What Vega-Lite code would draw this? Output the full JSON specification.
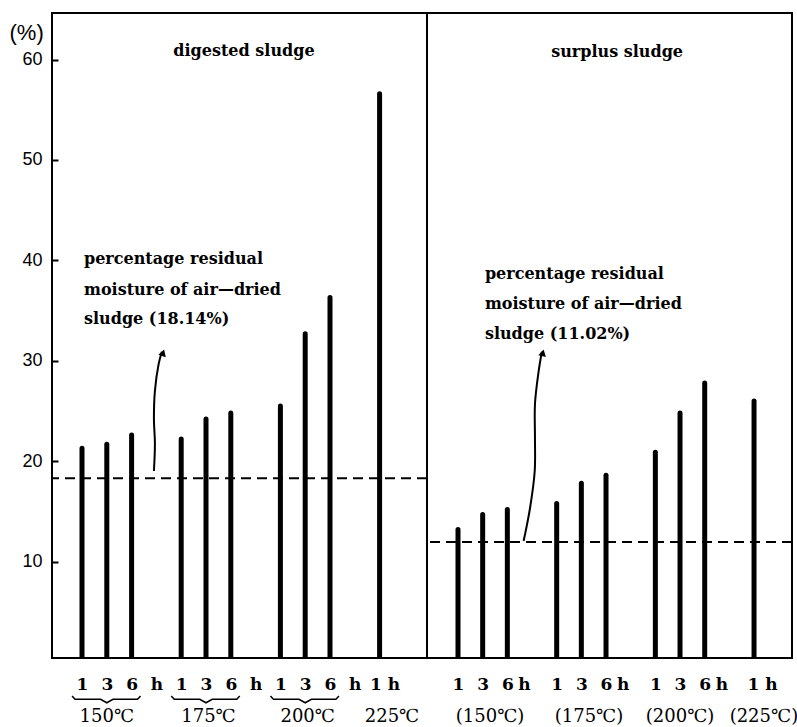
{
  "$schema": "https://vega.github.io/schema/vega-lite/v6.json",
  "background": "white",
  "padding": {"left": 8, "top": 12, "right": 0, "bottom": 0},
  "spacing": 0,
  "bounds": "flush",
  "config": {"view": {"stroke": "black", "strokeWidth": 2}, "axis": {"grid": false}},
  "resolve": {"scale": {"x": "independent", "y": "independent"}},
  "hconcat": [
    {
      "width": 375,
      "height": 645,
      "resolve": {"scale": {"x": "independent"}},
      "layer": [
        {
          "data": {"values": [
            {"key": "150-1", "v": 21.3}, {"key": "150-3", "v": 21.7}, {"key": "150-6", "v": 22.6},
            {"key": "175-1", "v": 22.2}, {"key": "175-3", "v": 24.2}, {"key": "175-6", "v": 24.8},
            {"key": "200-1", "v": 25.5}, {"key": "200-3", "v": 32.7}, {"key": "200-6", "v": 36.3},
            {"key": "225-1", "v": 56.6}
          ]},
          "mark": {"type": "rule", "strokeWidth": 5, "strokeCap": "round", "clip": true, "color": "black"},
          "encoding": {
            "x": {
              "field": "key", "type": "ordinal",
              "scale": {"type": "point", "domain": ["150-1", "150-3", "150-6", "150-h", "175-1", "175-3", "175-6", "175-h", "200-1", "200-3", "200-6", "200-h", "225-1"], "range": [30, 327.6], "padding": 0},
              "axis": {
                "title": null, "orient": "bottom", "domain": false, "ticks": false, "labelPadding": 26, "labelBaseline": "middle", "labelAngle": 0,
                "labelFont": "DejaVu Serif", "labelFontWeight": "bold", "labelFontSize": 17, "labelColor": "black", "labelOverlap": false,
                "labelExpr": "datum.value == '225-1' ? '1 h' : slice(datum.value, 4)",
                "labelOffset": {"condition": {"test": "datum.value == '225-1'", "value": 5}, "value": 0}
              }
            },
            "y": {
              "field": "v", "type": "quantitative",
              "scale": {"domain": [0.4, 64.64], "nice": false, "zero": false},
              "axis": {
                "title": "(%)", "titleAngle": 0, "titleX": -43, "titleY": 19, "titleAlign": "left", "titleBaseline": "middle",
                "titleFont": "Liberation Sans", "titleFontSize": 22, "titleFontWeight": "normal", "titleColor": "black",
                "values": [10, 20, 30, 40, 50, 60], "tickSize": -6, "tickWidth": 2, "tickColor": "black", "labelPadding": 16,
                "labelFont": "Liberation Sans", "labelFontSize": 18, "labelColor": "black", "domain": false
              }
            },
            "y2": {"datum": 0.4}
          }
        },
        {
          "layer": [
            {
              "data": {"values": [{"lvl": 18.3}]},
              "mark": {"type": "rule", "strokeDash": [10, 6], "strokeWidth": 2, "color": "black"},
              "encoding": {"y": {"field": "lvl", "type": "quantitative"}}
            },
            {
              "data": {"values": [
                {"x": 2.90, "y": 19.02, "k": 0}, {"x": 2.94, "y": 21.71, "k": 1}, {"x": 2.90, "y": 24.30, "k": 2},
                {"x": 2.94, "y": 26.99, "k": 3}, {"x": 3.09, "y": 29.68, "k": 4}, {"x": 3.22, "y": 30.9, "k": 5}
              ]},
              "mark": {"type": "line", "interpolate": "catmull-rom", "strokeWidth": 2, "color": "black"},
              "encoding": {
                "x": {"field": "x", "type": "quantitative", "scale": {"domain": [-1.2097, 13.911], "nice": false, "zero": false}, "axis": null},
                "y": {"field": "y", "type": "quantitative"},
                "order": {"field": "k"}
              }
            },
            {
              "data": {"values": [{"x": 3.27, "y": 30.8}]},
              "mark": {"type": "point", "shape": "triangle-up", "size": 60, "angle": 18, "filled": true, "color": "black", "opacity": 1},
              "encoding": {
                "x": {"field": "x", "type": "quantitative", "scale": {"domain": [-1.2097, 13.911], "nice": false, "zero": false}, "axis": null},
                "y": {"field": "y", "type": "quantitative"}
              }
            },
            {
              "data": {"values": [
                {"t": "percentage residual", "x": 0.08, "y": 40.14},
                {"t": "moisture of air—dried", "x": 0.08, "y": 37.05},
                {"t": "sludge (18.14%)", "x": 0.08, "y": 34.16}
              ]},
              "mark": {"type": "text", "align": "left", "baseline": "middle", "font": "DejaVu Serif", "fontWeight": "bold", "fontSize": 16, "color": "black"},
              "encoding": {
                "x": {"field": "x", "type": "quantitative", "scale": {"domain": [-1.2097, 13.911], "nice": false, "zero": false}, "axis": null},
                "y": {"field": "y", "type": "quantitative"},
                "text": {"field": "t"}
              }
            },
            {
              "data": {"values": [{"t": "digested sludge", "x": 6.53, "y": 60.86}]},
              "mark": {"type": "text", "align": "center", "baseline": "middle", "font": "DejaVu Serif", "fontWeight": "bold", "fontSize": 16, "color": "black"},
              "encoding": {
                "x": {"field": "x", "type": "quantitative", "scale": {"domain": [-1.2097, 13.911], "nice": false, "zero": false}, "axis": null},
                "y": {"field": "y", "type": "quantitative"},
                "text": {"field": "t"}
              }
            },
            {
              "data": {"values": [
                {"g": 1, "k": 0, "x": -0.40, "y": -3.39}, {"g": 1, "k": 1, "x": -0.28, "y": -3.72}, {"g": 1, "k": 2, "x": 0.75, "y": -3.72}, {"g": 1, "k": 3, "x": 1.0, "y": -4.06}, {"g": 1, "k": 4, "x": 1.25, "y": -3.72}, {"g": 1, "k": 5, "x": 2.24, "y": -3.72}, {"g": 1, "k": 6, "x": 2.36, "y": -3.39},
                {"g": 2, "k": 0, "x": 3.60, "y": -3.39}, {"g": 2, "k": 1, "x": 3.72, "y": -3.72}, {"g": 2, "k": 2, "x": 4.75, "y": -3.72}, {"g": 2, "k": 3, "x": 5.0, "y": -4.06}, {"g": 2, "k": 4, "x": 5.25, "y": -3.72}, {"g": 2, "k": 5, "x": 6.24, "y": -3.72}, {"g": 2, "k": 6, "x": 6.36, "y": -3.39},
                {"g": 3, "k": 0, "x": 7.60, "y": -3.39}, {"g": 3, "k": 1, "x": 7.72, "y": -3.72}, {"g": 3, "k": 2, "x": 8.75, "y": -3.72}, {"g": 3, "k": 3, "x": 9.0, "y": -4.06}, {"g": 3, "k": 4, "x": 9.25, "y": -3.72}, {"g": 3, "k": 5, "x": 10.24, "y": -3.72}, {"g": 3, "k": 6, "x": 10.36, "y": -3.39}
              ]},
              "mark": {"type": "line", "strokeWidth": 1.5, "color": "black"},
              "encoding": {
                "x": {"field": "x", "type": "quantitative", "scale": {"domain": [-1.2097, 13.911], "nice": false, "zero": false}, "axis": null},
                "y": {"field": "y", "type": "quantitative"},
                "detail": {"field": "g"},
                "order": {"field": "k"}
              }
            },
            {
              "data": {"values": [
                {"t": "150℃", "x": 1.0}, {"t": "175℃", "x": 5.1}, {"t": "200℃", "x": 9.1}, {"t": "225℃", "x": 12.5}
              ]},
              "mark": {"type": "text", "align": "center", "baseline": "middle", "font": "DejaVu Serif", "fontSize": 18, "color": "black"},
              "encoding": {
                "x": {"field": "x", "type": "quantitative", "scale": {"domain": [-1.2097, 13.911], "nice": false, "zero": false}, "axis": null},
                "y": {"datum": -5.48, "type": "quantitative"},
                "text": {"field": "t"}
              }
            }
          ]
        }
      ]
    },
    {
      "width": 365,
      "height": 645,
      "resolve": {"scale": {"x": "independent"}},
      "layer": [
        {
          "data": {"values": [
            {"key": "150-1", "v": 13.2}, {"key": "150-3", "v": 14.7}, {"key": "150-6", "v": 15.2},
            {"key": "175-1", "v": 15.8}, {"key": "175-3", "v": 17.8}, {"key": "175-6", "v": 18.6},
            {"key": "200-1", "v": 20.9}, {"key": "200-3", "v": 24.8}, {"key": "200-6", "v": 27.8},
            {"key": "225-1", "v": 26.0}
          ]},
          "mark": {"type": "rule", "strokeWidth": 5, "strokeCap": "round", "clip": true, "color": "black"},
          "encoding": {
            "x": {
              "field": "key", "type": "ordinal",
              "scale": {"type": "point", "domain": ["150-1", "150-3", "150-6", "150-h", "175-1", "175-3", "175-6", "175-h", "200-1", "200-3", "200-6", "200-h", "225-1"], "range": [31, 327.04], "padding": 0},
              "axis": {
                "title": null, "orient": "bottom", "domain": false, "ticks": false, "labelPadding": 26, "labelBaseline": "middle", "labelAngle": 0,
                "labelFont": "DejaVu Serif", "labelFontWeight": "bold", "labelFontSize": 17, "labelColor": "black", "labelOverlap": false,
                "labelExpr": "datum.value == '225-1' ? '1 h' : slice(datum.value, 4)",
                "labelOffset": {"condition": [{"test": "datum.value == '225-1'", "value": 8}, {"test": "slice(datum.value, 4) == 'h'", "value": -8}], "value": 0}
              }
            },
            "y": {
              "field": "v", "type": "quantitative",
              "scale": {"domain": [0.4, 64.64], "nice": false, "zero": false},
              "axis": null
            },
            "y2": {"datum": 0.4}
          }
        },
        {
          "layer": [
            {
              "data": {"values": [{"lvl": 11.95}]},
              "mark": {"type": "rule", "strokeDash": [10, 6], "strokeWidth": 2, "color": "black"},
              "encoding": {"y": {"field": "lvl", "type": "quantitative", "axis": null}}
            },
            {
              "data": {"values": [
                {"x": 2.66, "y": 12.05, "k": 0}, {"x": 2.92, "y": 15.34, "k": 1}, {"x": 3.11, "y": 19.02, "k": 2},
                {"x": 3.12, "y": 22.31, "k": 3}, {"x": 3.12, "y": 25.70, "k": 4}, {"x": 3.27, "y": 28.98, "k": 5}, {"x": 3.40, "y": 30.9, "k": 6}
              ]},
              "mark": {"type": "line", "interpolate": "catmull-rom", "strokeWidth": 2, "color": "black"},
              "encoding": {
                "x": {"field": "x", "type": "quantitative", "scale": {"domain": [-1.2566, 13.539], "nice": false, "zero": false}, "axis": null},
                "y": {"field": "y", "type": "quantitative", "axis": null},
                "order": {"field": "k"}
              }
            },
            {
              "data": {"values": [{"x": 3.44, "y": 30.8}]},
              "mark": {"type": "point", "shape": "triangle-up", "size": 60, "angle": 13, "filled": true, "color": "black", "opacity": 1},
              "encoding": {
                "x": {"field": "x", "type": "quantitative", "scale": {"domain": [-1.2566, 13.539], "nice": false, "zero": false}, "axis": null},
                "y": {"field": "y", "type": "quantitative", "axis": null}
              }
            },
            {
              "data": {"values": [
                {"t": "percentage residual", "x": 1.09, "y": 38.65},
                {"t": "moisture of air—dried", "x": 1.09, "y": 35.66},
                {"t": "sludge (11.02%)", "x": 1.09, "y": 32.67}
              ]},
              "mark": {"type": "text", "align": "left", "baseline": "middle", "font": "DejaVu Serif", "fontWeight": "bold", "fontSize": 16, "color": "black"},
              "encoding": {
                "x": {"field": "x", "type": "quantitative", "scale": {"domain": [-1.2566, 13.539], "nice": false, "zero": false}, "axis": null},
                "y": {"field": "y", "type": "quantitative", "axis": null},
                "text": {"field": "t"}
              }
            },
            {
              "data": {"values": [{"t": "surplus sludge", "x": 6.45, "y": 60.76}]},
              "mark": {"type": "text", "align": "center", "baseline": "middle", "font": "DejaVu Serif", "fontWeight": "bold", "fontSize": 16, "color": "black"},
              "encoding": {
                "x": {"field": "x", "type": "quantitative", "scale": {"domain": [-1.2566, 13.539], "nice": false, "zero": false}, "axis": null},
                "y": {"field": "y", "type": "quantitative", "axis": null},
                "text": {"field": "t"}
              }
            },
            {
              "data": {"values": [
                {"t": "(150℃)", "x": 1.3}, {"t": "(175℃)", "x": 5.31}, {"t": "(200℃)", "x": 9.0}, {"t": "(225℃)", "x": 12.4}
              ]},
              "mark": {"type": "text", "align": "center", "baseline": "middle", "font": "DejaVu Serif", "fontSize": 18, "color": "black"},
              "encoding": {
                "x": {"field": "x", "type": "quantitative", "scale": {"domain": [-1.2566, 13.539], "nice": false, "zero": false}, "axis": null},
                "y": {"datum": -5.48, "type": "quantitative", "axis": null},
                "text": {"field": "t"}
              }
            }
          ]
        }
      ]
    }
  ]
}
